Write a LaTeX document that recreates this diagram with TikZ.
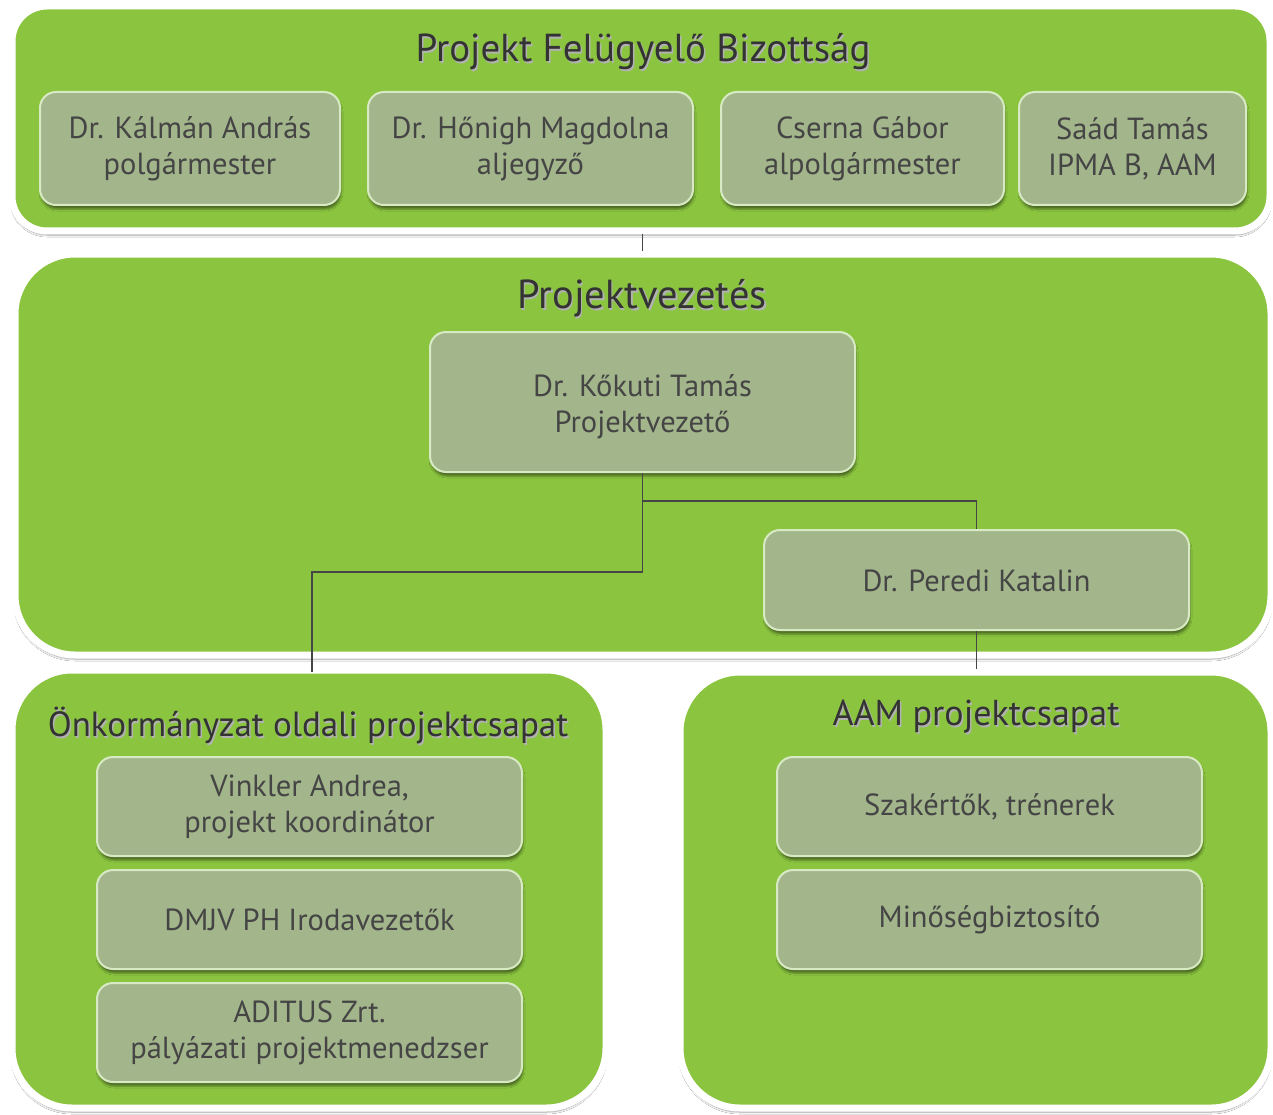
\documentclass[tikz,border=0pt]{standalone}
\usepackage{fontspec}
\setmainfont{PT Sans}
\usetikzlibrary{shadows.blur,calc}
\definecolor{grn}{HTML}{8BC53F}
\definecolor{innerf}{HTML}{A3B68B}
\definecolor{innerb}{HTML}{D8EAC4}
\definecolor{txt}{HTML}{454545}
\definecolor{ttl}{HTML}{333333}
\definecolor{conn}{HTML}{454545}
\newcommand\shtxt[1]{\leavevmode\rlap{\hspace{1.5pt}\raisebox{-2pt}{\textcolor{black!30}{#1}}}#1}
\tikzset{
  bigbox/.style={draw=white, line width=7pt, fill=grn, rounded corners=#1, inner sep=0pt,
    blur shadow={shadow xshift=0pt, shadow yshift=-4pt, shadow opacity=40, shadow blur steps=6}},
  bigbox/.default=40pt,
  ttlnode/.style={text=ttl, font=\fontsize{#1}{44}\selectfont, inner sep=0pt},
  ttlnode/.default=39,
  ibox/.style={fill=innerf, draw=innerb, line width=2pt, rounded corners=16pt, text=txt,
    align=center, font=\fontsize{30.5}{36}\selectfont, inner sep=0pt,
    blur shadow={shadow xshift=1pt, shadow yshift=-4pt, shadow opacity=45, shadow blur steps=4}},
  itext/.style={text=txt, align=center, font=\fontsize{30.5}{36}\selectfont, inner sep=0pt},
  conline/.style={draw=conn, line width=1.6pt}
}
\begin{document}
\begin{tikzpicture}[x=1pt,y=-1pt]
\fill[white] (0,0) rectangle (1273,1115);
\useasboundingbox (0,0) rectangle (1273,1115);

% group boxes
\node[bigbox=35pt, minimum width=1258pt, minimum height=225pt] (fb) at (641,118.5) {};
\node[bigbox=60pt, minimum width=1256pt, minimum height=401pt] (pvg) at (643,454.5) {};
\node[bigbox=60pt, minimum width=594pt, minimum height=438pt] (ok) at (309,889) {};
\node[bigbox=60pt, minimum width=591pt, minimum height=436pt] (aam) at (975.5,890) {};

% titles
\node[ttlnode=39] (fbt) at (643,53) {\shtxt{Projekt Felügyelő Bizottság}};
\node[ttlnode=40.5] (pvt) at (642,299) {\shtxt{Projektvezetés}};
\node[ttlnode=35] (okt) at (308,726) {\shtxt{Önkormányzat oldali projektcsapat}};
\node[ttlnode=36] (aamt) at (976,718) {\shtxt{AAM projektcsapat}};

% project management boxes and connectors
\coordinate (okin) at (312,672);
\node[ibox, minimum width=425pt, minimum height=140pt] (pv) at (642.5,402) {};
\node[ibox, minimum width=425pt, minimum height=100pt] (pk) at (976.5,580) {};
\draw[conline] (fb.south -| pv.north) -- (pvg.north -| pv.north);
\draw[conline] (pv.south) -- ++(0,28) -| (pk.north);
\draw[conline] (pv.south) -- ++(0,99) -| (okin);
\draw[conline] (pk.south) -- (aam.north -| pk.south);
\node[itext] (pvx) at ([yshift=-5pt]pv.center) {Dr. Kőkuti Tamás\\Projektvezető};
\node[itext] (pkx) at ([yshift=-1pt]pk.center) {Dr. Peredi Katalin};

% board members
\node[ibox, minimum width=300pt, minimum height=113pt] (k1) at (190,148.5) {Dr. Kálmán András\\polgármester};
\node[ibox, minimum width=325pt, minimum height=113pt] (k2) at (530.5,148.5) {Dr. Hőnigh Magdolna\\aljegyző};
\node[ibox, minimum width=283pt, minimum height=113pt] (k3) at (862.5,148.5) {Cserna Gábor\\alpolgármester};
\node[ibox, minimum width=227pt, minimum height=113pt] (k4) at (1132.5,148.5) {Saád Tamás\\IPMA B, AAM};

% municipal team
\node[ibox, minimum width=425pt, minimum height=99pt] (v1) at (309.5,806.5) {Vinkler Andrea,\\projekt koordinátor};
\node[ibox, minimum width=425pt, minimum height=99pt] (v2) at (309.5,919.5) {DMJV PH Irodavezetők};
\node[ibox, minimum width=425pt, minimum height=99pt] (v3) at (309.5,1032.5) {ADITUS Zrt.\\pályázati projektmenedzser};

% AAM team
\node[ibox, minimum width=425pt, minimum height=99pt] (s1) at (989.5,806.5) {Szakértők, trénerek};
\node[ibox, minimum width=425pt, minimum height=99pt] (s2) at (989.5,919.5) {Minőségbiztosító};
\end{tikzpicture}
\end{document}
